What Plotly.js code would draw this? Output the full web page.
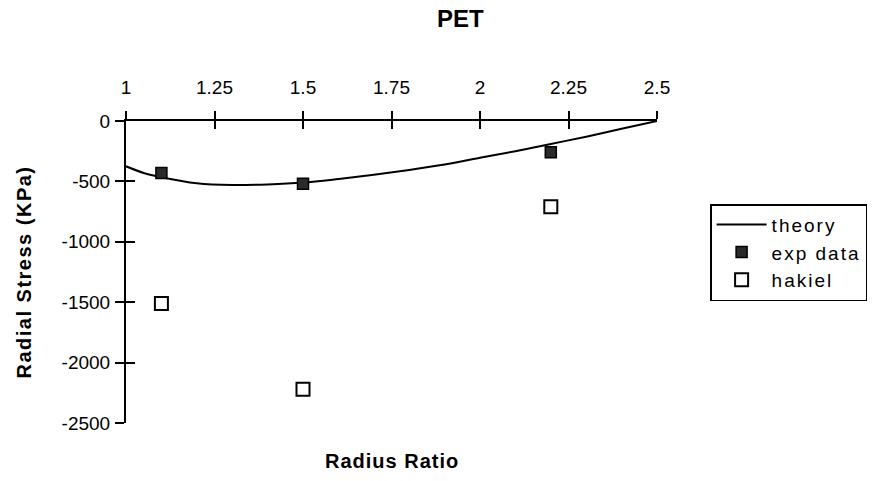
<!DOCTYPE html>
<html>
<head>
<meta charset="utf-8">
<script src="https://cdn.plot.ly/plotly-3.0.1.min.js"></script>
<style>
html,body{margin:0;padding:0;background:#fff;}
#chart{width:882px;height:481px;}
.legendtext{letter-spacing:2px;}
.ytitle{letter-spacing:1.5px;}
.annotation-text{letter-spacing:1px;}
</style>
</head>
<body>
<div id="chart"></div>
<script>
// Data
const theoryX = [1.0, 1.05, 1.1, 1.2, 1.3, 1.4, 1.5, 1.6, 1.7, 1.8, 1.9, 2.0, 2.1, 2.2, 2.3, 2.4, 2.5];
const theoryY = [-375, -430, -465, -515, -530, -525, -510, -480, -445, -405, -360, -305, -250, -190, -130, -65, 0];
const expX = [1.1, 1.5, 2.2];
const expY = [-430, -520, -258];
const hakielX = [1.1, 1.5, 2.2];
const hakielY = [-1510, -2220, -710];
const xTicks = [1, 1.25, 1.5, 1.75, 2, 2.25, 2.5];
const xTickText = ['1', '1.25', '1.5', '1.75', '2', '2.25', '2.5'];
const yTicks = [0, -500, -1000, -1500, -2000, -2500];
const yTickText = ['0', '-500', '-1000', '-1500', '-2000', '-2500'];

const FAM = 'Arial, Liberation Sans, sans-serif';
const tickFont = {family: FAM, size: 19, color: '#000'};

const traces = [
  {x: theoryX, y: theoryY, name: 'theory', type: 'scatter', mode: 'lines', legendgroup: 'a',
   line: {color: '#000', width: 2, shape: 'spline'}, cliponaxis: false},
  {x: expX, y: expY, name: 'exp data', type: 'scatter', mode: 'markers', legendgroup: 'b',
   marker: {symbol: 'square', size: 11, color: '#2a2a2a', line: {color: '#000', width: 1.5}}, cliponaxis: false},
  {x: hakielX, y: hakielY, name: 'hakiel', type: 'scatter', mode: 'markers', legendgroup: 'c',
   marker: {symbol: 'square-open', size: 13, color: '#000', line: {color: '#000', width: 2}}, cliponaxis: false},
  {x: [null], y: [null], xaxis: 'x2', yaxis: 'y2', showlegend: false, hoverinfo: 'skip', type: 'scatter', mode: 'markers'}
];

const layout = {
  width: 882, height: 481,
  margin: {l: 126, r: 225, t: 121, b: 58},
  paper_bgcolor: '#fff', plot_bgcolor: '#fff',
  font: tickFont,
  showlegend: true,
  title: {text: '<b>PET</b>', x: 0.522, xanchor: 'center', y: 0.962, yanchor: 'middle',
          font: {family: FAM, size: 24, color: '#000'}},
  xaxis: {range: [1, 2.5], side: 'top', tickvals: xTicks, ticktext: xTickText,
          showline: true, linecolor: '#000', linewidth: 2, ticks: 'outside', ticklen: 8, tickwidth: 2, tickcolor: '#000',
          showgrid: false, zeroline: false, ticklabelstandoff: 9, tickfont: tickFont,
          title: {text: ''}},
  xaxis2: {range: [1, 2.5], overlaying: 'x', side: 'top', tickvals: xTicks, showticklabels: false,
           showline: false, ticks: 'inside', ticklen: 8, tickwidth: 2, tickcolor: '#000',
           showgrid: false, zeroline: false, anchor: 'y2'},
  yaxis: {range: [-2500, 0], tickvals: yTicks, ticktext: yTickText,
          showline: true, linecolor: '#000', linewidth: 2, ticks: 'outside', ticklen: 9, tickwidth: 2, tickcolor: '#000',
          showgrid: false, zeroline: false, ticklabelstandoff: 1, tickfont: tickFont,
          title: {text: '<b>Radial Stress (KPa)</b>', standoff: 25, font: {family: FAM, size: 20, color: '#000'}}},
  yaxis2: {range: [-2500, 0], overlaying: 'y', tickvals: yTicks, showticklabels: false,
           showline: false, ticks: 'inside', ticklen: 9, tickwidth: 2, tickcolor: '#000',
           showgrid: false, zeroline: false, anchor: 'x2'},
  annotations: [
    {text: '<b>Radius Ratio</b>', xref: 'paper', yref: 'paper', x: 0.5, y: -0.126, xanchor: 'center', yanchor: 'middle',
     showarrow: false, font: {family: FAM, size: 20, color: '#000'}}
  ],
  legend: {x: 1.1, y: 0.725, xanchor: 'left', yanchor: 'top', bgcolor: '#fff', bordercolor: '#000', borderwidth: 1.5,
           font: {family: FAM, size: 19, color: '#000'}, tracegroupgap: 0, itemwidth: 50}
};

Plotly.newPlot('chart', traces, layout, {displayModeBar: false, staticPlot: true});
</script>
</body>
</html>
